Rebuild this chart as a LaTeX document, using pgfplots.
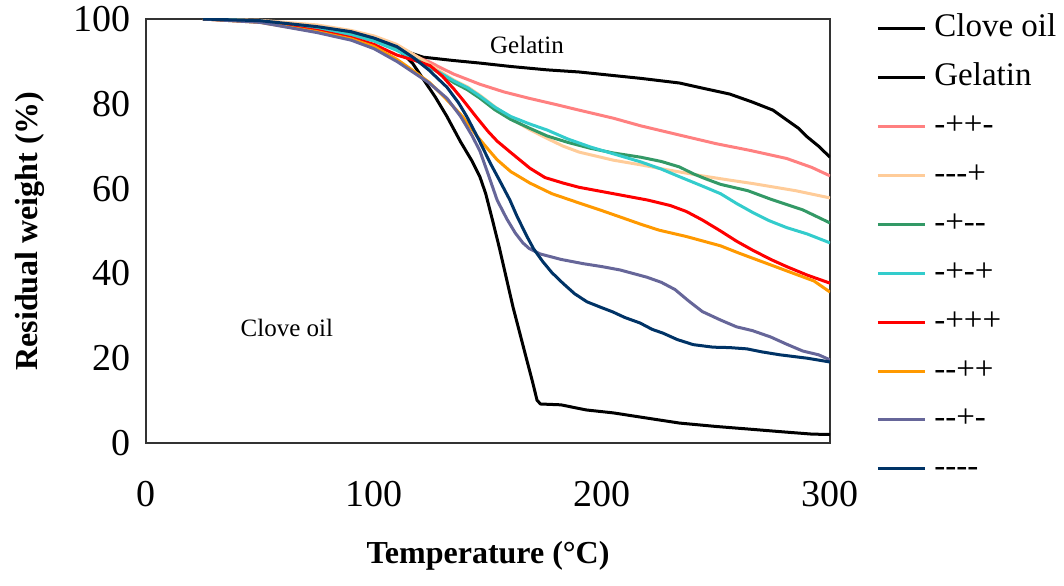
\documentclass[border=0pt]{standalone}
\usepackage{pgfplots}
\pgfplotsset{compat=1.18}
\usepackage{fontspec}
\setmainfont{Liberation Serif}[Ligatures=TeXOff]
\definecolor{cpink}{RGB}{255,128,128}
\definecolor{cpeach}{RGB}{255,204,153}
\definecolor{cgreen}{RGB}{51,153,102}
\definecolor{cteal}{RGB}{51,204,204}
\definecolor{cred}{RGB}{255,0,0}
\definecolor{corange}{RGB}{255,153,0}
\definecolor{cpurple}{RGB}{102,102,153}
\definecolor{cnavy}{RGB}{0,51,102}
\begin{document}
\begin{tikzpicture}
\begin{axis}[
  at={(73bp,71.5bp)}, anchor=south west,
  width=342bp, height=212bp, scale only axis,
  xmin=0, xmax=300, ymin=0, ymax=100,
  xtick={0,100,200,300}, ytick={0,20,40,60,80,100},
  major tick length=0pt,
  axis line style={black!80, line width=1bp},
  /pgf/number format/assume math mode=true,
  tick label style={font=\fontsize{19bp}{22bp}\selectfont},
  xticklabel style={yshift=-15.7bp},
  yticklabel style={xshift=-4bp},
  xlabel={Temperature (°C)},
  ylabel={Residual weight (\%)},
  every axis x label/.style={at={(axis description cs:0.5,-0.2665)}, anchor=center, font=\fontsize{16bp}{19bp}\selectfont\bfseries},
  every axis y label/.style={at={(axis description cs:-0.1696,0.5)}, rotate=90, anchor=center, font=\fontsize{16bp}{19bp}\selectfont\bfseries},
  legend style={draw=none, fill=none, at={(1,1)}, anchor=north west, xshift=20bp, yshift=6.3bp,
    font=\fontsize{16.5bp}{19bp}\selectfont, row sep=6.45bp,
    nodes={inner sep=1bp, text height=12bp, text depth=4bp}},
  legend cell align=left,
  legend image code/.code={\draw[#1] (0bp,0bp) -- (23.5bp,0bp); \path (26.5bp,0bp);},
  every axis plot/.append style={line width=1.5bp, line join=round},
]
\addplot[black] coordinates {(25,100)(50,99.6)(75,98.3)(90,97)(100,95.5)(110,93.2)(117,89.5)(122,85.5)(127,81.5)(132,77)(138,71)(143,66.5)(146.5,62.7)(149,58.8)(152,52.5)(155,46)(158,39)(161,32)(164,25.8)(167,19.6)(169.5,14.5)(171.5,10.1)(173,9.2)(182,9)(193,7.8)(205,7.1)(217,6.1)(234,4.7)(250,3.9)(264,3.3)(280,2.6)(292,2.1)(300,2.0)};
\addlegendentry{Clove oil}
\addplot[black] coordinates {(25,100)(50,99.6)(75,98.3)(90,97)(100,95.5)(110,93.5)(116,92)(121.5,91)(135,90.2)(146.5,89.6)(160,88.8)(176,88)(190,87.5)(208,86.5)(217,86)(234,84.9)(244,83.7)(256,82.3)(266,80.4)(275,78.5)(281,76.2)(286,74.3)(290,72.2)(295,70)(300,67.4)};
\addlegendentry{Gelatin}
\addplot[cpink] coordinates {(25,100)(50,99.5)(75,98)(90,96.5)(100,95)(110,93)(118,91.2)(124.6,89.8)(130,88.3)(135,87)(146.5,84.6)(157,82.8)(168,81.3)(180,79.8)(190,78.5)(205,76.6)(217,74.8)(235,72.5)(250,70.6)(265,69)(281,67.1)(292,65)(300,63)};
\addlegendentry{-++-}
\addplot[cpeach] coordinates {(25,100)(50,99.7)(75,98.6)(90,97.3)(100,96)(110,94)(120,90.8)(128,88)(135,85.6)(141,84)(146.5,82)(153,79.3)(161,76.2)(168,74)(176,71.8)(183,70)(190,68.6)(205,66.7)(217,65.6)(230,64.3)(244,63)(256,62)(266,61.2)(285,59.5)(300,57.8)};
\addlegendentry{---+}
\addplot[cgreen] coordinates {(25,100)(50,99.5)(75,97.8)(90,96.3)(100,95)(110,92.8)(120,90)(128,87.5)(135,85)(141,83.3)(146.5,81.3)(153,78.6)(160,76.3)(168,74.3)(176,72.4)(185,70.9)(195,69.5)(205,68.4)(217,67.4)(226,66.4)(234,65.1)(240,63.5)(245,62.4)(252,61)(264,59.5)(274,57.5)(288,55)(300,51.9)};
\addlegendentry{-+--}
\addplot[cteal] coordinates {(25,100)(50,99.5)(75,97.7)(90,96.2)(100,94.8)(110,92.6)(120,89.8)(128,87.6)(135,85.4)(141,83.8)(146.5,81.8)(153,79.2)(160,77)(168,75.3)(176,73.8)(185,71.7)(195,69.8)(205,68.2)(217,66.3)(226,64.6)(234,62.8)(244,60.6)(252,58.8)(259,56.5)(266,54.4)(273,52.5)(281,50.8)(290,49.3)(300,47.2)};
\addlegendentry{-+-+}
\addplot[cred] coordinates {(25,100)(50,99.3)(75,97.3)(90,95.6)(100,94)(110,91.5)(118,90.2)(124.6,89)(130,86.5)(135,83.5)(139,80.9)(145,76.8)(150,73.5)(154,71.2)(160,68.5)(168.4,64.8)(175,62.6)(183,61.3)(190,60.3)(200,59.3)(208,58.5)(220,57.3)(230,56)(237,54.6)(244,52.6)(252,50)(259,47.6)(266,45.5)(274,43.3)(281,41.6)(290,39.6)(300,37.7)};
\addlegendentry{-+++}
\addplot[corange] coordinates {(25,100)(50,99.2)(75,97)(90,95.3)(100,93.5)(110,90.5)(118,87.5)(124.6,84.9)(131,81.5)(139,76.9)(145,72.5)(150,69.3)(154,66.8)(160,64)(168.4,61.3)(178,58.8)(190,56.6)(200,54.8)(208,53.3)(217,51.6)(225,50.2)(237,48.7)(252,46.5)(260,44.8)(266,43.6)(281,40.6)(293,38.2)(300,35.6)};
\addlegendentry{--++}
\addplot[cpurple] coordinates {(25,100)(50,99.2)(75,96.8)(90,95)(100,93)(110,90)(117,87.5)(124,85)(132,81.3)(138,77)(143,72.5)(146.5,68.8)(150,63.5)(154,57.3)(158.3,52.8)(162,49.5)(165.3,47.2)(168,45.9)(172.8,44.6)(182,43.3)(191.7,42.3)(200,41.6)(208,40.8)(219.7,39.1)(226,37.9)(232,36.2)(238,33.5)(244,31)(252,29)(259,27.4)(266,26.5)(274,25)(281,23.3)(288,21.7)(295,20.8)(300,19.6)};
\addlegendentry{--+-}
\addplot[cnavy] coordinates {(25,100)(50,99.6)(75,98.2)(90,97)(100,95.5)(110,93.5)(117,91)(124,88)(132,83.9)(137,80.3)(140.8,76.9)(146,71.5)(151,66)(155.5,61.5)(159.6,57.3)(162.7,53.5)(167,48.8)(170,45.8)(174,42.8)(178,40.2)(183,37.6)(188,35.2)(193.4,33.3)(199,32.1)(204.8,30.9)(210,29.6)(216.7,28.3)(222,26.8)(226.8,25.9)(233,24.4)(240,23.2)(248.7,22.6)(256,22.5)(263.6,22.2)(270,21.5)(278,20.8)(290,20)(300,19.1)};
\addlegendentry{----}
\node[font=\fontsize{12.5bp}{15bp}\selectfont] at (axis cs:167.1,93.9) {Gelatin};
\node[font=\fontsize{12.5bp}{15bp}\selectfont] at (axis cs:61.8,27.1) {Clove oil};
\end{axis}
\pgfresetboundingbox
\path[use as bounding box] (0,0) rectangle (532bp,293bp);
\end{tikzpicture}
\end{document}
